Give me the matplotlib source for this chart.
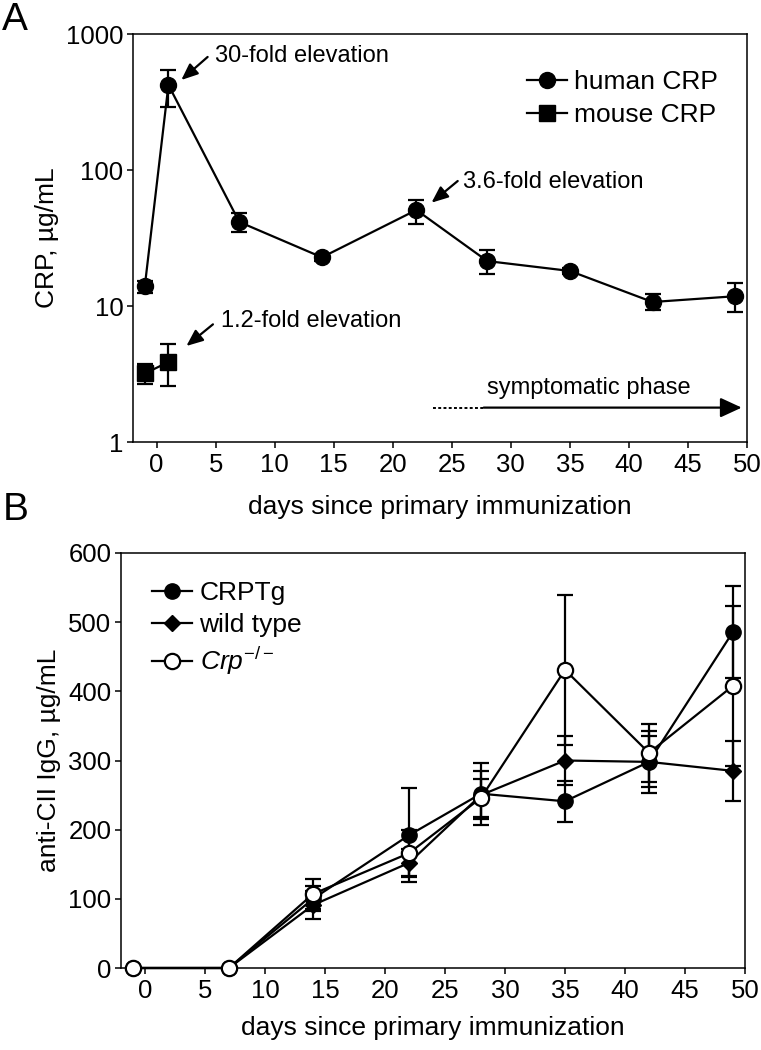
import numpy as np
import matplotlib
matplotlib.use("Agg")
import matplotlib.pyplot as plt
from matplotlib.ticker import FixedLocator, NullLocator

plt.rcParams['font.family'] = ['Liberation Sans', 'DejaVu Sans']
plt.rcParams['mathtext.fontset'] = 'custom'
plt.rcParams['mathtext.rm'] = 'Liberation Sans'
plt.rcParams['mathtext.it'] = 'Liberation Sans:italic'

# ---- panel A data (CRP, ug/mL) ----
days_human = [-1, 1, 7, 14, 22, 28, 35, 42, 49]
human_crp = [14.0, 422, 41.5, 22.8, 50.8, 21.4, 18.1, 10.7, 11.8]
human_lo = [12.5, 290, 35, 21.5, 40, 17.2, 17.3, 9.3, 9.0]
human_hi = [15.3, 543, 48, 24.0, 60, 25.8, 19.0, 12.2, 14.7]

days_mouse = [-1, 1]
mouse_crp = [3.19, 3.87]
mouse_lo = [2.66, 2.58]
mouse_hi = [3.73, 5.22]

# ---- panel B data (anti-CII IgG, ug/mL) ----
days_b = [-1, 7, 14, 22, 28, 35, 42, 49]
crptg = [0, 0, 100, 192, 252, 241, 298, 486]
crptg_err = [0, 0, 18, 68, 45, 30, 45, 67]
wild = [0, 0, 91, 152, 250, 300, 298, 285]
wild_err = [0, 0, 20, 20, 35, 35, 37, 43]
crp_ko = [0, 0, 107, 166, 246, 431, 311, 408]
crp_ko_err = [0, 0, 22, 33, 27, 108, 42, 116]

xticks = [0, 5, 10, 15, 20, 25, 30, 35, 40, 45, 50]

TICK = 18.5
LAB = 19
ANN = 17
LW = 1.6

fig = plt.figure(figsize=(7.61, 10.5), dpi=100)
axA = fig.add_axes([133 / 761, 1 - 442 / 1050, (747 - 133) / 761, (442 - 34) / 1050])
axB = fig.add_axes([121 / 761, 1 - 968 / 1050, (745 - 121) / 761, (968 - 553) / 1050])


def style(ax, xpad):
    for s in ax.spines.values():
        s.set_linewidth(1.1)
    ax.tick_params(direction='out', length=4, width=1.1, labelsize=TICK)
    ax.tick_params(axis='x', pad=4)
    ax.tick_params(axis='y', pad=3)
    ax.set_xlim(-2, 50)
    ax.xaxis.set_major_locator(FixedLocator(xticks))
    ax.set_xlabel('days since primary immunization', fontsize=LAB, labelpad=xpad)


# ---------------- panel A ----------------
h = np.array(human_crp)
m = np.array(mouse_crp)
ebh = axA.errorbar(days_human, h, yerr=[h - np.array(human_lo), np.array(human_hi) - h],
                   fmt='-o', color='k', lw=LW, ms=11.5, elinewidth=LW, capsize=6, capthick=LW,
                   zorder=3)
ebm = axA.errorbar(days_mouse, m, yerr=[m - np.array(mouse_lo), np.array(mouse_hi) - m],
                   fmt='-s', color='k', lw=LW, ms=11, elinewidth=LW, capsize=6, capthick=LW,
                   zorder=3)
axA.set_yscale('log')
axA.set_ylim(1, 1000)
axA.yaxis.set_major_locator(FixedLocator([1, 10, 100, 1000]))
axA.yaxis.set_minor_locator(NullLocator())
axA.set_yticklabels(['1', '10', '100', '1000'])
style(axA, 13)
axA.set_ylabel('CRP, \u00b5g/mL', fontsize=LAB, labelpad=5)

arrow = dict(arrowstyle='-|>,head_length=1.0,head_width=0.42', color='k', lw=1.6,
             shrinkA=0, shrinkB=0, mutation_scale=10)
axA.annotate('', xy=(2.09, 459), xytext=(4.32, 678), arrowprops=arrow)
axA.text(4.92, 623, '30-fold elevation', fontsize=ANN, va='baseline', ha='left')
axA.annotate('', xy=(23.28, 57.5), xytext=(25.5, 83), arrowprops=arrow)
axA.text(25.96, 74.2, '3.6-fold elevation', fontsize=ANN, va='baseline', ha='left')
axA.annotate('', xy=(2.52, 5.08), xytext=(4.77, 7.33), arrowprops=arrow)
axA.text(5.48, 6.97, '1.2-fold elevation', fontsize=ANN, va='baseline', ha='left')

# symptomatic phase arrow
axA.plot([23.4, 27.7], [1.79, 1.79], color='k', lw=1.4, ls=(0, (1.5, 1.2)))
axA.annotate('', xy=(49.55, 1.79), xytext=(27.7, 1.79),
             arrowprops=dict(arrowstyle='-|>,head_length=1.3,head_width=0.6', color='k',
                             lw=1.6, shrinkA=0, shrinkB=0, mutation_scale=10))
axA.text(27.94, 2.24, 'symptomatic phase', fontsize=ANN, va='baseline', ha='left')

axA.legend([ebh[0], ebm[0]], ['human CRP', 'mouse CRP'],
           loc='upper left', bbox_to_anchor=(527 / 761, 1 - 70 / 1050),
           bbox_transform=fig.transFigure, frameon=False, fontsize=LAB,
           handlelength=1.5, handletextpad=0.3, borderpad=0, borderaxespad=0,
           labelspacing=0.35)

# ---------------- panel B ----------------
eb1 = axB.errorbar(days_b, crptg, yerr=crptg_err, fmt='-o', color='k', lw=LW, ms=11,
                   elinewidth=LW, capsize=6, capthick=LW, zorder=3, clip_on=False)
eb2 = axB.errorbar(days_b, wild, yerr=wild_err, fmt='-D', color='k', lw=LW, ms=8,
                   elinewidth=LW, capsize=6, capthick=LW, zorder=3, clip_on=False)
eb3 = axB.errorbar(days_b, crp_ko, yerr=crp_ko_err, fmt='-o', color='k', mfc='white', mec='k',
                   mew=1.6, lw=LW, ms=11, elinewidth=LW, capsize=6, capthick=LW,
                   zorder=4, clip_on=False)
axB.set_ylim(0, 600)
axB.yaxis.set_major_locator(FixedLocator([0, 100, 200, 300, 400, 500, 600]))
style(axB, 9)
axB.set_ylabel('anti-CII IgG, \u00b5g/mL', fontsize=LAB, labelpad=5)
axB.legend([eb1[0], eb2[0], eb3[0]], ['CRPTg', 'wild type', r'$\mathit{Crp}^{\mathit{-/-}}$'],
           loc='upper left', bbox_to_anchor=(152 / 761, 1 - 581 / 1050),
           bbox_transform=fig.transFigure, frameon=False, fontsize=LAB,
           handlelength=1.5, handletextpad=0.3, borderpad=0, borderaxespad=0,
           labelspacing=0.3)

fig.text(2 / 761, 1 - 20 / 1050, 'A', fontsize=28, va='center', ha='left')
fig.text(3 / 761, 1 - 510 / 1050, 'B', fontsize=28, va='center', ha='left')

fig.savefig('out.png', dpi=100)
